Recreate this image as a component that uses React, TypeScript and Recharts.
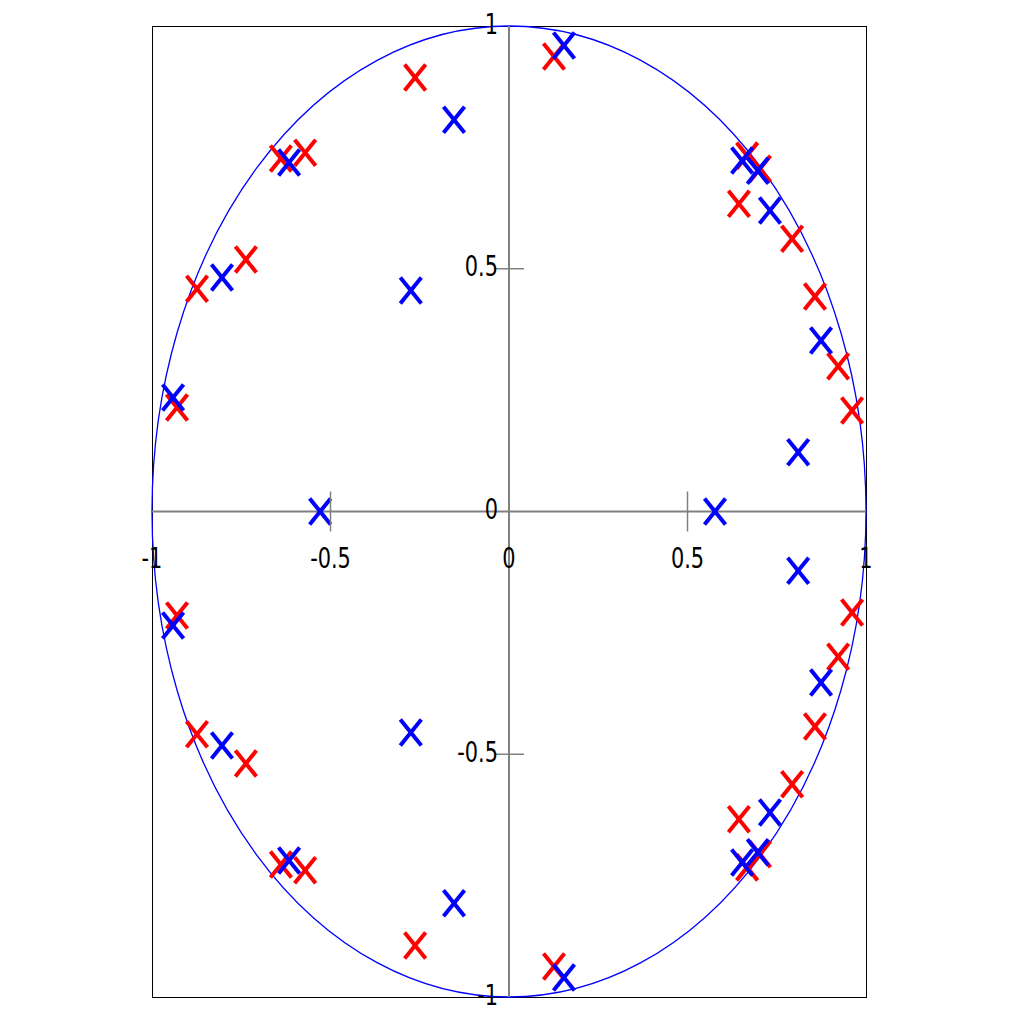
import { ScatterChart, Scatter, XAxis, YAxis, ReferenceLine, ReferenceArea } from 'recharts';

// red markers (conjugate pairs, upper half then lower half)
const redX = [
  0.126, -0.263, -0.639, -0.571, -0.737, -0.874, -0.930,
  0.667, 0.703, 0.644, 0.793, 0.857, 0.922, 0.961,
  0.126, -0.263, -0.639, -0.571, -0.737, -0.874, -0.930,
  0.667, 0.703, 0.644, 0.793, 0.857, 0.922, 0.961,
];
const redY = [
  0.937, 0.894, 0.727, 0.739, 0.519, 0.459, 0.214,
  0.733, 0.706, 0.634, 0.562, 0.443, 0.299, 0.208,
  -0.937, -0.894, -0.727, -0.739, -0.519, -0.459, -0.214,
  -0.733, -0.706, -0.634, -0.562, -0.443, -0.299, -0.208,
];

// blue markers
const blueX = [
  0.154, -0.154, -0.616, -0.804, -0.941, -0.275,
  0.653, 0.697, 0.731, 0.874, 0.810,
  0.154, -0.154, -0.616, -0.804, -0.941, -0.275,
  0.653, 0.697, 0.731, 0.874, 0.810,
  -0.529, 0.577,
];
const blueY = [
  0.960, 0.807, 0.719, 0.482, 0.235, 0.455,
  0.723, 0.702, 0.620, 0.352, 0.122,
  -0.960, -0.807, -0.719, -0.482, -0.235, -0.455,
  -0.723, -0.702, -0.620, -0.352, -0.122,
  0, 0,
];

const xTicks = [-1, -0.5, 0, 0.5, 1];
const yTicks = [-1, -0.5, 0, 0.5, 1];

const redData = redX.map((x, i) => ({ x, y: redY[i] }));
const blueData = blueX.map((x, i) => ({ x, y: blueY[i] }));

const PLOT_LEFT = 152;
const PLOT_TOP = 26;
const PLOT_W = 714;
const PLOT_H = 971;
const ORIGIN_X = PLOT_LEFT + PLOT_W / 2;
const ORIGIN_Y = PLOT_TOP + PLOT_H / 2;
const AXIS_GRAY = '#808080';
const FONT = '"DejaVu Sans", sans-serif';

const Cross = (color: string) => (props: any) => {
  const { cx, cy } = props;
  const hw = 10.5;
  const hh = 13;
  return (
    <g stroke={color} strokeWidth={4}>
      <line x1={cx - hw} y1={cy - hh} x2={cx + hw} y2={cy + hh} />
      <line x1={cx - hw} y1={cy + hh} x2={cx + hw} y2={cy - hh} />
    </g>
  );
};

const XTick = (props: any) => {
  const { x, payload } = props;
  const v = payload.value;
  return (
    <g>
      {Math.abs(v) === 0.5 && (
        <line x1={x} x2={x} y1={ORIGIN_Y - 20} y2={ORIGIN_Y + 20} stroke={AXIS_GRAY} strokeWidth={1.5} />
      )}
      <text
        transform={`translate(${x},${ORIGIN_Y + 56}) scale(0.72,1)`}
        textAnchor="middle"
        fontSize={29}
        fontFamily={FONT}
        fill="#000"
      >
        {String(v)}
      </text>
    </g>
  );
};

const YTick = (props: any) => {
  const { y, payload } = props;
  const v = payload.value;
  return (
    <g>
      {Math.abs(v) === 0.5 && (
        <line x1={ORIGIN_X - 15} x2={ORIGIN_X + 15} y1={y} y2={y} stroke={AXIS_GRAY} strokeWidth={1.5} />
      )}
      <text
        transform={`translate(${ORIGIN_X - 11},${y + 7.5}) scale(0.72,1)`}
        textAnchor="end"
        fontSize={29}
        fontFamily={FONT}
        fill="#000"
      >
        {String(v)}
      </text>
    </g>
  );
};

const UnitCircle = (props: any) => {
  const { x, y, width, height } = props;
  return (
    <ellipse
      cx={x + width / 2}
      cy={y + height / 2}
      rx={width / 2}
      ry={height / 2}
      fill="none"
      stroke="#0000ff"
      strokeWidth={1.3}
    />
  );
};

const Frame = (props: any) => {
  const { x, y, width, height } = props;
  return (
    <rect
      x={x}
      y={y}
      width={width}
      height={height}
      fill="none"
      stroke="#000"
      strokeWidth={1}
      shapeRendering="crispEdges"
    />
  );
};

export default function App() {
  return (
    <div style={{ position: 'absolute', left: 0, top: 0, width: 1024, height: 1024, background: '#fff' }}>
      <ScatterChart
        width={1024}
        height={1024}
        margin={{
          top: PLOT_TOP,
          left: PLOT_LEFT - 1,
          right: 1024 - PLOT_LEFT - PLOT_W,
          bottom: 1024 - PLOT_TOP - PLOT_H - 1,
        }}
      >
        <XAxis
          type="number"
          dataKey="x"
          domain={[-1, 1]}
          ticks={xTicks}
          interval={0}
          height={1}
          axisLine={false}
          tickLine={false}
          tick={<XTick />}
        />
        <YAxis
          type="number"
          dataKey="y"
          domain={[-1, 1]}
          ticks={yTicks}
          interval={0}
          width={1}
          axisLine={false}
          tickLine={false}
          tick={<YTick />}
        />
        <ReferenceArea x1={-1} x2={1} y1={-1} y2={1} shape={Frame} />
        <ReferenceLine x={0} stroke={AXIS_GRAY} strokeWidth={2} />
        <ReferenceLine y={0} stroke={AXIS_GRAY} strokeWidth={2} />
        <ReferenceArea x1={-1} x2={1} y1={-1} y2={1} shape={UnitCircle} />
        <Scatter data={redData} shape={Cross('#ff0000')} isAnimationActive={false} />
        <Scatter data={blueData} shape={Cross('#0000ff')} isAnimationActive={false} />
      </ScatterChart>
    </div>
  );
}
